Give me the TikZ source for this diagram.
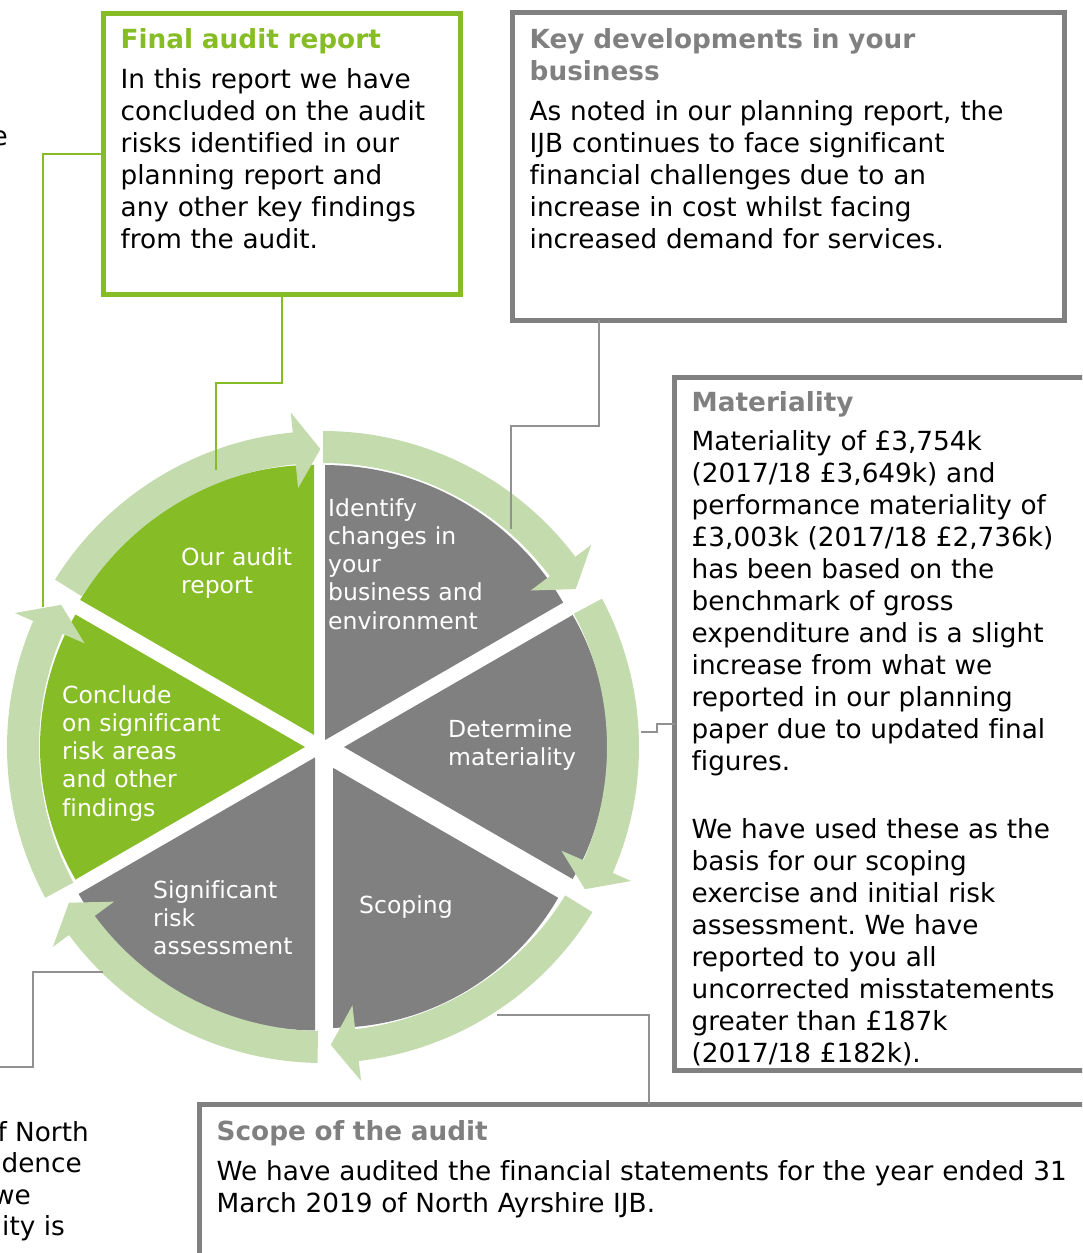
\documentclass[tikz,border=0pt]{standalone}
\usepackage{fontspec}
\setmainfont[Ligatures=NoCommon]{DejaVu Sans}
\usepackage{xcolor}
\usetikzlibrary{positioning}
\usetikzlibrary{calc}
\frenchspacing
\definecolor{auditgreen}{RGB}{134, 188, 37}
\definecolor{ringgreen}{RGB}{196, 219, 174}
\definecolor{stepgrey}{RGB}{128, 128, 128}
\definecolor{linkgrey}{RGB}{145, 145, 145}
\newcommand{\boxfont}{\fontsize{26.3}{32}\selectfont}
\newcommand{\wheelfont}{\fontsize{23.5}{28.3}\selectfont}
\newcommand{\greentitle}[1]{{\bfseries\color{auditgreen}#1}}
\newcommand{\greytitle}[1]{{\bfseries\color{stepgrey}#1}}
\tikzstyle{greenbox} = [
	line width=5pt,
	draw=auditgreen,
	anchor=north west,
	inner sep=0pt,
	outer sep=0pt,
]
\tikzstyle{greybox} = [
	line width=5pt,
	draw=stepgrey,
	anchor=north west,
	inner sep=0pt,
	outer sep=0pt,
]
\tikzstyle{boxtext} = [
	anchor=base west,
	inner sep=0pt,
	text width=900pt,
	align=left,
	font=\boxfont,
]
\tikzstyle{steptext} = [
	anchor=base west,
	inner sep=0pt,
	text width=200pt,
	align=left,
	font=\wheelfont,
	text=white,
]
\tikzstyle{fragment} = [
	anchor=base east,
	inner sep=0pt,
	font=\boxfont,
]
\tikzstyle{greenlink} = [
	line width=2pt,
	draw=auditgreen,
]
\tikzstyle{greylink} = [
	line width=2pt,
	draw=linkgrey,
]

\begin{document}
\begin{tikzpicture}[x=1pt, y=-1pt]
	\useasboundingbox (0,0) rectangle (1082,1253);
	\clip (0,0) rectangle (1082,1253);

	%
	% Wedges of the wheel
	\begin{scope}[shift={(321,747)}, yscale=-1]
		\foreach \b/\d/\r/\c in {120/14/270/auditgreen, 60/8/275/stepgrey, 0/23/264/stepgrey, -60/24/260/stepgrey, -120/12/273/stepgrey, 180/16/265/auditgreen}
			\fill[\c] (\b:\d) -- ++(\b+30:\r) arc[start angle=\b+30, end angle=\b-30, radius=\r] -- cycle;
	\end{scope}

	%
	% Ring arrows
	\begin{scope}[shift={(323,747)}, yscale=-1]
		\foreach \s/\t in {148/90.5, 90/32, 28/-28.5, -31.5/-88.5, -91/-148.5, -151.5/-208.5}
			\fill[ringgreen] (\s:316) arc[start angle=\s, end angle=\t+5, radius=316] -- (\t+5:336) -- (\t:298) -- (\t+5:260) -- (\t+5:284) arc[start angle=\t+5, end angle=\s, radius=284] -- cycle;
	\end{scope}

	%
	% Steps
	\node[steptext] (step-report) at (181,565) {Our audit\\report};
	\node[steptext] (step-changes) at (328,516) {Identify\\changes in\\your\\business and\\environment};
	\node[steptext] (step-materiality) at (448,737) {Determine\\materiality};
	\node[steptext] (step-scoping) at (359,913) {Scoping};
	\node[steptext] (step-risk) at (153,898) {Significant\\risk\\assessment};
	\node[steptext] (step-conclude) at (62,703) {Conclude\\on significant\\risk areas\\and other\\findings};

	%
	% Boxes
	\node[greenbox, minimum width=357pt, minimum height=281pt] (final) at (103.5,13.5) {};
	\node[greybox, minimum width=552pt, minimum height=307.5pt] (keydev) at (512.5,12.5) {};
	\node[greybox, minimum width=430pt, minimum height=693pt] (materiality) at (674.5,377.5) {};
	\node[greybox, minimum width=900pt, minimum height=200pt] (scope) at (199.5,1104) {};

	\node[boxtext] (final-text) at ([shift={(17,35)}]final.north west) {\greentitle{Final audit report}\\[8pt]
		In this report we have\\concluded on the audit\\risks identified in our\\planning report and\\any other key findings\\from the audit.};
	\node[boxtext] (keydev-text) at ([shift={(17,35.5)}]keydev.north west) {\greytitle{Key developments in your\\business}\\[8pt]
		As noted in our planning report, the\\IJB continues to face significant\\financial challenges due to an\\increase in cost whilst facing\\increased demand for services.};
	\node[boxtext] (materiality-text) at ([shift={(17,33.5)}]materiality.north west) {\greytitle{Materiality}\\[7pt]
		Materiality of £3,754k\\(2017/18 £3,649k) and\\performance materiality of\\£3,003k (2017/18 £2,736k)\\has been based on the\\benchmark of gross\\expenditure and is a slight\\increase from what we\\reported in our planning\\paper due to updated final\\figures.\\[36pt]
		We have used these as the\\basis for our scoping\\exercise and initial risk\\assessment. We have\\reported to you all\\uncorrected misstatements\\greater than £187k\\(2017/18 £182k).};
	\node[boxtext] (scope-text) at ([shift={(17,36)}]scope.north west) {\greytitle{Scope of the audit}\\[8pt]
		We have audited the financial statements for the year ended 31\\March 2019 of North Ayrshire IJB.};

	%
	% Text cut at the left edge
	\node[fragment] (cut-e) at (8,145) {e};
	\node[fragment] (cut-north) at (89,1141) {f North};
	\node[fragment] (cut-dence) at (82,1172) {dence};
	\node[fragment] (cut-we) at (31,1204) {we};
	\node[fragment] (cut-ity) at (65,1235) {ity is};

	%
	% Connectors
	\coordinate (pin-report) at (216,470);
	\coordinate (pin-conclude) at (43,607);
	\coordinate (pin-changes) at (511,529);
	\coordinate (pin-materiality) at (641,732);
	\coordinate (pin-scoping) at (497,1015);
	\coordinate (pin-risk) at (103,972);
	\coordinate (offpage) at (-10,1067);

	\draw[greenlink] (final.south) -- ++(0,88) -| (pin-report);
	\draw[greenlink] (final.west) -| (pin-conclude);
	\draw[greylink] ([xshift=86pt]keydev.south west) -- ++(0,106) -| (pin-changes);
	\draw[greylink] (pin-materiality) -- ++(16,0) |- (materiality.west);
	\draw[greylink] (pin-scoping) -| ([xshift=449.5pt]scope.north west);
	\draw[greylink] (pin-risk) -- ++(-70,0) |- (offpage);

\end{tikzpicture}
\end{document}
